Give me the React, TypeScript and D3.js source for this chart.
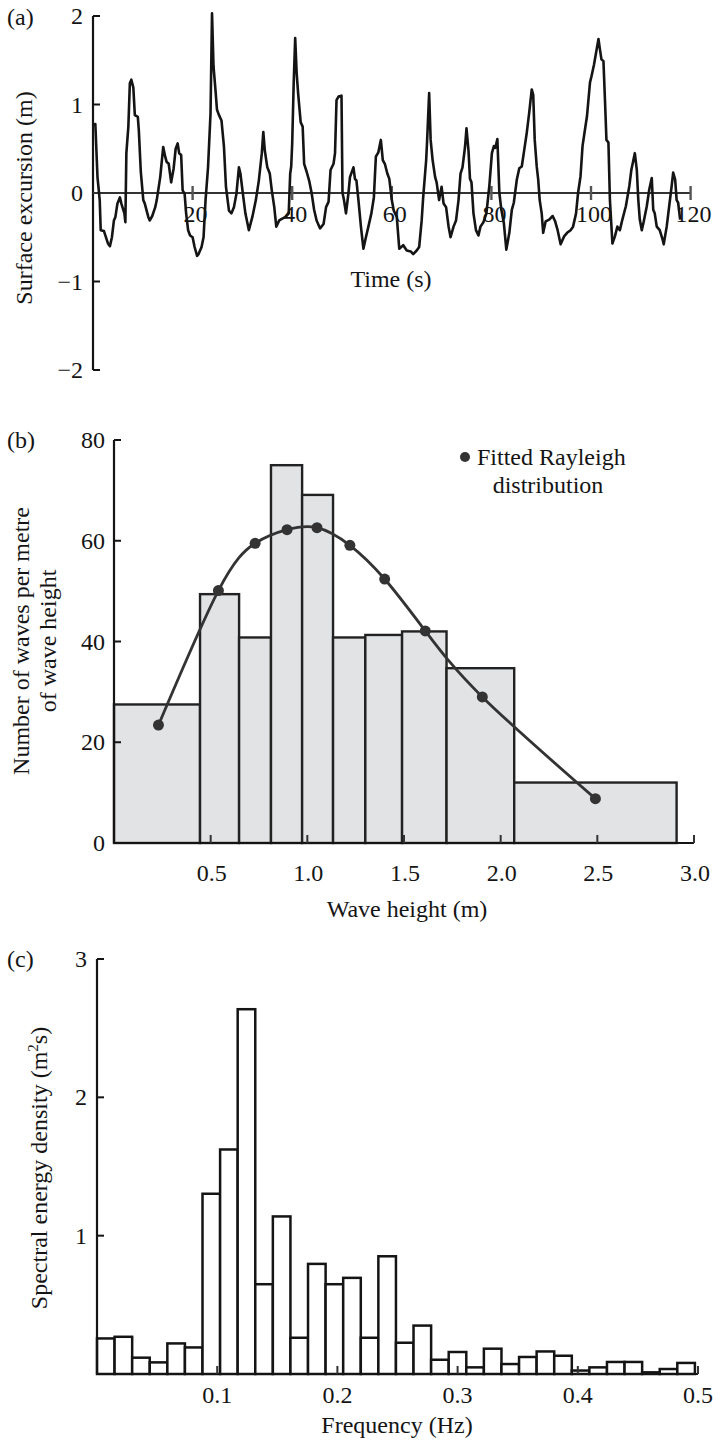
import React from 'react';
import * as d3 from 'd3';

// ---------- Panel (a): surface excursion time series ----------
const timeS = [
  0, 0.47, 0.9, 1.35, 1.55, 2.2, 3.0, 3.4, 3.8, 4.2, 4.5, 4.9, 5.4, 5.7, 6.3, 6.5, 6.7, 7.1, 7.4, 7.7,
  8.1, 8.4, 9.0, 9.2, 9.6, 10.1, 10.4, 11.1, 11.4, 11.9, 12.5, 12.8, 13.5, 14.1, 14.5, 14.8, 15.2, 15.7,
  16.2, 16.6, 17.0, 17.3, 17.7, 18.0, 18.4, 18.7, 19.1, 19.5, 20.0, 20.4, 20.9, 21.2, 21.8, 22.2, 22.6,
  23.1, 23.6, 23.9, 24.2, 24.6, 24.9, 25.3, 25.8, 26.3, 26.7, 27.3, 27.8, 28.3, 28.8, 29.3, 29.6, 30.1,
  30.6, 31.3, 32.0, 32.7, 33.3, 33.9, 34.2, 34.5, 35.0, 35.5, 35.9, 36.4, 36.8, 37.4, 38.0, 38.7, 39.3,
  39.6, 39.8, 40.0, 40.3, 40.6, 40.9, 41.2, 41.7, 42.1, 42.4, 42.9, 43.4, 43.9, 44.4, 44.9, 45.6, 46.3,
  46.8, 47.3, 47.7, 48.3, 48.6, 48.9, 49.3, 49.9, 50.1, 50.4, 50.8, 51.3, 51.6, 52.3, 52.6, 52.9, 53.3,
  53.8, 54.3, 54.8, 55.3, 55.9, 56.4, 56.8, 57.3, 57.8, 58.2, 58.6, 59.1, 59.5, 60.0, 60.4, 61.0, 61.5,
  62.3, 63.0, 63.8, 64.3, 65.0, 65.5, 66.0, 66.3, 66.9, 67.1, 67.5, 67.8, 68.2, 68.7, 69.0, 69.5, 70.0,
  70.4, 70.9, 71.4, 71.8, 72.4, 72.9, 73.4, 73.8, 74.2, 74.7, 75.0, 75.4, 75.7, 76.0, 76.4, 76.9, 77.4,
  77.8, 78.4, 79.0, 79.6, 80.1, 80.5, 80.8, 81.2, 81.6, 82.0, 82.5, 83.0, 83.6, 84.1, 84.5, 85.1, 85.6,
  86.1, 86.5, 87.1, 87.6, 88.1, 88.4, 88.7, 89.1, 89.4, 89.7, 90.1, 90.4, 90.9, 91.6, 92.3, 92.8, 93.3,
  93.9, 94.6, 95.2, 95.9, 96.4, 97.0, 97.4, 97.9, 98.3, 98.8, 99.2, 99.8, 100.1, 100.6, 101.0, 101.5,
  101.8, 102.1, 102.5, 102.8, 103.1, 103.5, 103.8, 104.3, 104.8, 105.3, 105.8, 106.3, 107.0, 107.7,
  108.1, 108.8, 109.2, 109.5, 109.8, 110.2, 110.6, 111.2, 111.7, 112.2, 112.5, 112.8, 113.2, 113.8,
  114.4, 114.6, 115.2, 115.7, 116.2, 116.5, 116.9, 117.2, 117.5, 117.9,
];
const surfaceM = [
  0.77, 0.78, 0.18, -0.08, -0.42, -0.43, -0.57, -0.6, -0.5, -0.31, -0.27, -0.12, -0.05, -0.12, -0.23, -0.33, 0.45, 0.75, 1.24, 1.28,
  1.19, 0.88, 0.86, 0.71, 0.24, -0.08, -0.12, -0.27, -0.31, -0.26, -0.16, -0.08, 0.18, 0.52, 0.41, 0.35, 0.33, 0.12,
  0.28, 0.5, 0.56, 0.45, 0.43, 0.03, -0.01, -0.23, -0.42, -0.48, -0.5, -0.61, -0.71, -0.69, -0.61, -0.5, -0.08,
  0.29, 0.9, 2.03, 1.43, 1.16, 0.94, 0.88, 0.82, 0.52, 0.07, -0.2, -0.23, -0.16, -0.01, 0.29, 0.22, -0.01,
  -0.23, -0.42, -0.27, -0.08, 0.14, 0.45, 0.69, 0.48, 0.29, 0.22, 0.03, -0.16, -0.38, -0.31, -0.29, -0.27, -0.23,
  0.22, 0.3, 0.56, 1.24, 1.75, 1.35, 1.12, 0.8, 0.75, 0.33, 0.24, 0.14, 0.0, -0.19, -0.31, -0.4, -0.35,
  -0.16, -0.1, 0.26, 0.33, 0.45, 1.05, 1.09, 1.1, 0.0, -0.08, -0.23, 0.0, 0.18, 0.29, 0.16, 0.14, -0.08,
  -0.38, -0.63, -0.5, -0.38, -0.23, -0.05, 0.41, 0.46, 0.6, 0.37, 0.33, 0.22, 0.16, -0.08, -0.2, -0.27, -0.63,
  -0.59, -0.65, -0.66, -0.69, -0.65, -0.61, -0.31, -0.05, 0.37, 0.6, 1.13, 0.6, 0.37, 0.18, 0.12, -0.08, 0.07,
  -0.12, -0.16, -0.38, -0.5, -0.38, -0.31, -0.08, 0.22, 0.29, 0.52, 0.73, 0.48, 0.16, 0.12, -0.23, -0.42, -0.48,
  -0.38, -0.33, -0.23, 0.09, 0.45, 0.53, 0.51, 0.61, 0.0, -0.19, -0.34, -0.64, -0.45, -0.19, -0.11, 0.15, 0.28,
  0.3, 0.45, 0.68, 0.91, 1.17, 1.11, 0.6, 0.3, 0.15, -0.08, -0.23, -0.45, -0.32, -0.3, -0.26, -0.32, -0.42,
  -0.58, -0.49, -0.45, -0.42, -0.38, -0.23, 0.0, 0.19, 0.53, 0.72, 0.87, 1.25, 1.32, 1.45, 1.58, 1.74,
  1.62, 1.51, 1.49, 1.06, 0.6, 0.57, -0.08, -0.57, -0.49, -0.38, -0.42, -0.3, -0.15, 0.08,
  0.26, 0.45, 0.26, -0.08, -0.3, -0.42, -0.32, -0.15, 0.04, 0.17, -0.19, -0.23, -0.38, -0.42,
  -0.53, -0.58, -0.38, -0.15, 0.08, 0.23, 0.15, -0.08, -0.11, -0.3,
];
const timeTicks = [20, 40, 60, 80, 100, 120];
const surfaceTicks = [-2, -1, 0, 1, 2];
const surfaceTickLabels = ['\u22122', '\u22121', '0', '1', '2'];

// ---------- Panel (b): wave height histogram ----------
const waveBinEdges = [0, 0.445, 0.647, 0.812, 0.973, 1.133, 1.3, 1.49, 1.72, 2.07, 2.91];
const waveCounts = [27.5, 49.4, 40.8, 75.0, 69.1, 40.8, 41.3, 42.0, 34.7, 12.0];
const rayleighH = [0.23, 0.54, 0.73, 0.895, 1.05, 1.22, 1.4, 1.61, 1.905, 2.49];
const rayleighN = [23.4, 50.1, 59.5, 62.2, 62.6, 59.1, 52.4, 42.1, 29.0, 8.8];
const heightTicks = [0.5, 1.0, 1.5, 2.0, 2.5, 3.0];
const heightTickLabels = ['0.5', '1.0', '1.5', '2.0', '2.5', '3.0'];
const countTicks = [0, 20, 40, 60, 80];

// ---------- Panel (c): wave spectrum ----------
const spectralBinWidth = 0.01463;
const spectralDensity = [
  0.257, 0.269, 0.118, 0.084, 0.221, 0.192, 1.303, 1.623, 2.637, 0.649, 1.139, 0.262, 0.796, 0.649,
  0.695, 0.262, 0.851, 0.226, 0.35, 0.103, 0.159, 0.048, 0.183, 0.072, 0.123, 0.163, 0.132, 0.025,
  0.048, 0.087, 0.087, 0.012, 0.036, 0.08,
];
const freqTicks = [0.1, 0.2, 0.3, 0.4, 0.5];
const densityTicks = [1, 2, 3];

const FONT = "'Liberation Serif', 'Times New Roman', serif";
const FS = 24;
const INK = '#141414';

export default function App() {
  // Panel a scales
  const xA = d3.scaleLinear().domain([0, 120]).range([93, 690.6]);
  const yA = d3.scaleLinear().domain([-2, 2]).range([370, 16]);
  const lineA = d3
    .line<number>()
    .x((_, i) => xA(timeS[i]))
    .y((d) => yA(d));

  // Panel b scales
  const xB = d3.scaleLinear().domain([0, 3]).range([114, 694]);
  const yB = d3.scaleLinear().domain([0, 80]).range([843, 440]);
  const curveB = d3
    .line<number>()
    .x((_, i) => xB(rayleighH[i]))
    .y((d) => yB(d))
    .curve(d3.curveNatural);

  // Panel c scales
  const xC = d3.scaleLinear().domain([0, 0.5]).range([97, 698]);
  const yC = d3.scaleLinear().domain([0, 3]).range([1374, 959]);

  const txt = { fontFamily: FONT, fontSize: FS, fill: INK } as const;

  return (
    <svg
      width={720}
      height={1443}
      viewBox="0 0 720 1443"
      style={{ position: 'absolute', left: 0, top: 0, background: '#fff' }}
    >
      <rect x={0} y={0} width={720} height={1443} fill="#fff" />

      {/* ================= Panel (a) ================= */}
      <text x={7} y={25} {...txt}>(a)</text>
      <line x1={xA(0)} x2={xA(0)} y1={yA(2)} y2={yA(-2)} stroke={INK} strokeWidth={2.2} />
      {surfaceTicks.map((v, i) => (
        <g key={'ya' + v}>
          <line x1={xA(0)} x2={xA(0) + 7} y1={yA(v)} y2={yA(v)} stroke={INK} strokeWidth={2} />
          <text x={83} y={yA(v) + 8} textAnchor="end" {...txt}>{surfaceTickLabels[i]}</text>
        </g>
      ))}
      <line x1={xA(0)} x2={xA(120)} y1={yA(0)} y2={yA(0)} stroke="#333" strokeWidth={2.2} />
      {timeTicks.map((t) => (
        <g key={'xa' + t}>
          <line x1={xA(t)} x2={xA(t)} y1={yA(0) - 7} y2={yA(0) + 7} stroke="#555" strokeWidth={2.4} />
          <text x={xA(t) + 3} y={222} textAnchor="middle" {...txt}>{t}</text>
        </g>
      ))}
      <path d={lineA(surfaceM) || ''} fill="none" stroke={INK} strokeWidth={2.6} strokeLinejoin="round" />
      <text x={391} y={287} textAnchor="middle" {...txt}>Time (s)</text>
      <text transform={`translate(32,198) rotate(-90)`} textAnchor="middle" {...txt}>
        Surface excursion (m)
      </text>

      {/* ================= Panel (b) ================= */}
      <text x={7} y={448} {...txt}>(b)</text>
      {waveCounts.map((n, i) => (
        <rect
          key={'bb' + i}
          x={xB(waveBinEdges[i])}
          y={yB(n)}
          width={xB(waveBinEdges[i + 1]) - xB(waveBinEdges[i])}
          height={yB(0) - yB(n)}
          fill="#e2e3e5"
          stroke="#222"
          strokeWidth={2.4}
        />
      ))}
      <line x1={xB(0)} x2={xB(0)} y1={yB(80)} y2={yB(0)} stroke={INK} strokeWidth={2.2} />
      <line x1={xB(0)} x2={xB(3)} y1={yB(0)} y2={yB(0)} stroke={INK} strokeWidth={2.2} />
      {countTicks.map((v) => (
        <g key={'yb' + v}>
          <line x1={xB(0)} x2={xB(0) + 7} y1={yB(v)} y2={yB(v)} stroke={INK} strokeWidth={2} />
          <text x={105} y={yB(v) + 8} textAnchor="end" {...txt}>{v}</text>
        </g>
      ))}
      {heightTicks.map((h, i) => (
        <g key={'xb' + h}>
          <line x1={xB(h)} x2={xB(h)} y1={yB(0)} y2={yB(0) - 8} stroke="#333" strokeWidth={2} />
          <text x={xB(h) + 1} y={881} textAnchor="middle" {...txt}>{heightTickLabels[i]}</text>
        </g>
      ))}
      <path d={curveB(rayleighN) || ''} fill="none" stroke="#333" strokeWidth={2.8} />
      {rayleighN.map((n, i) => (
        <circle key={'rp' + i} cx={xB(rayleighH[i])} cy={yB(n)} r={5.5} fill="#333" />
      ))}
      <circle cx={465} cy={457} r={5} fill="#333" />
      <text x={477} y={465} {...txt}>Fitted Rayleigh</text>
      <text x={548} y={493} textAnchor="middle" {...txt}>distribution</text>
      <text x={407} y={917} textAnchor="middle" {...txt}>Wave height (m)</text>
      <text transform={`translate(29,641) rotate(-90)`} textAnchor="middle" {...txt}>
        Number of waves per metre
      </text>
      <text transform={`translate(56,641) rotate(-90)`} textAnchor="middle" {...txt}>
        of wave height
      </text>

      {/* ================= Panel (c) ================= */}
      <text x={7} y={967} {...txt}>(c)</text>
      {spectralDensity.map((v, i) => (
        <rect
          key={'cb' + i}
          x={xC(i * spectralBinWidth)}
          y={yC(v)}
          width={xC((i + 1) * spectralBinWidth) - xC(i * spectralBinWidth)}
          height={yC(0) - yC(v)}
          fill="#fff"
          stroke={INK}
          strokeWidth={2.5}
        />
      ))}
      <line x1={xC(0)} x2={xC(0)} y1={yC(3)} y2={yC(0)} stroke={INK} strokeWidth={2.2} />
      <line x1={xC(0)} x2={xC(0.5)} y1={yC(0)} y2={yC(0)} stroke={INK} strokeWidth={2.2} />
      {densityTicks.map((v) => (
        <g key={'yc' + v}>
          <line x1={xC(0)} x2={xC(0) + 7} y1={yC(v)} y2={yC(v)} stroke={INK} strokeWidth={2} />
          <text x={87} y={yC(v) + 8} textAnchor="end" {...txt}>{v}</text>
        </g>
      ))}
      {freqTicks.map((f) => (
        <g key={'xc' + f}>
          <line x1={xC(f)} x2={xC(f)} y1={yC(0)} y2={yC(0) - 8} stroke="#333" strokeWidth={2} />
          <text x={xC(f)} y={1403} textAnchor="middle" {...txt}>{f.toFixed(1)}</text>
        </g>
      ))}
      <text x={397} y={1433} textAnchor="middle" {...txt}>Frequency (Hz)</text>
      <text transform={`translate(47,1168) rotate(-90)`} textAnchor="middle" {...txt}>
        Spectral energy density (m
        <tspan fontSize={15} dy={-9}>2</tspan>
        <tspan dy={9}>s)</tspan>
      </text>
    </svg>
  );
}
